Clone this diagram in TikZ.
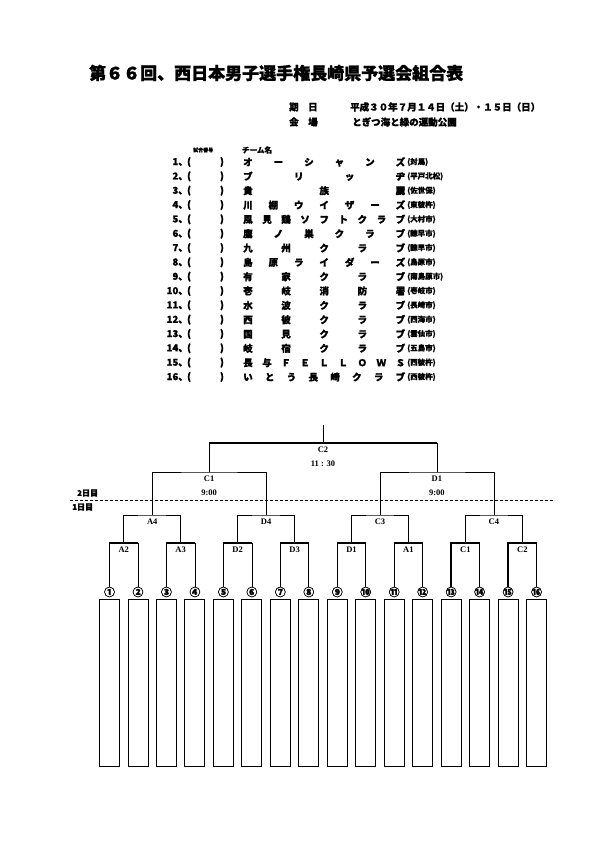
\documentclass[tikz,border=0pt]{standalone}
\usepackage{fontspec}
\setmainfont{Noto Sans CJK JP}[BoldFeatures={FakeBold=1.2}]
\newfontfamily\latin{Liberation Serif}
\usetikzlibrary{calc}

\tikzset{
  rowtxt/.style={inner sep=0pt, font=\fontsize{9.5}{10}\selectfont\bfseries},
  place/.style={inner sep=0pt, anchor=west, font=\fontsize{7.5}{8}\selectfont\bfseries},
  circ/.style={inner sep=0pt, font=\fontsize{11}{11}\selectfont\bfseries},
  slot/.style={draw, line width=0.9pt, minimum width=20pt, minimum height=167pt, anchor=north, inner sep=0pt},
  mlabel/.style={inner sep=0pt, font=\latin\fontsize{8.5}{9}\selectfont\bfseries},
  daytxt/.style={inner sep=0pt, anchor=west, font=\fontsize{8}{8}\selectfont\bfseries},
  win/.style={line width=1.4pt},
  lose/.style={line width=0.6pt},
  mid/.style={line width=1pt},
}

\begin{document}
\begin{tikzpicture}[x=1pt,y=-1pt]
\useasboundingbox (0,0) rectangle (595,842);

% heading
\node[anchor=west, inner sep=0pt, font=\fontsize{17}{17}\selectfont\bfseries] (title) at (89,73) {第６６回、西日本男子選手権長崎県予選会組合表};
\node[rowtxt, anchor=west] (datelab) at (289,107) {期　日};
\node[rowtxt, anchor=west] (date) at (350,107) {平成３０年７月１４日（土）・１５日（日）};
\node[rowtxt, anchor=west] (venuelab) at (289,122) {会　場};
\node[rowtxt, anchor=west] (venue) at (352,122) {とぎつ海と緑の運動公園};

% team list
\node[inner sep=0pt, anchor=west, font=\fontsize{5}{5}\selectfont\bfseries] (hdnum) at (193,150) {試合番号};
\node[inner sep=0pt, anchor=west, font=\fontsize{7.5}{8}\selectfont\bfseries] (hdname) at (242,150) {チーム名};
\foreach \tname/\tplace [count=\i] in {
    オ\hfill ー\hfill シ\hfill ャ\hfill ン\hfill ズ/対馬,
    ブ\hfill リ\hfill ッ\hfill ヂ/平戸北松,
    貴\hfill 族\hfill 麗/佐世保,
    川\hfill 棚\hfill ウ\hfill イ\hfill ザ\hfill ー\hfill ズ/東彼杵,
    風\hfill 見\hfill 鶏\hfill ソ\hfill フ\hfill ト\hfill ク\hfill ラ\hfill ブ/大村市,
    鷹\hfill ノ\hfill 巣\hfill ク\hfill ラ\hfill ブ/諫早市,
    九\hfill 州\hfill ク\hfill ラ\hfill ブ/諫早市,
    島\hfill 原\hfill ラ\hfill イ\hfill ダ\hfill ー\hfill ズ/島原市,
    有\hfill 家\hfill ク\hfill ラ\hfill ブ/南島原市,
    壱\hfill 岐\hfill 消\hfill 防\hfill 署/壱岐市,
    水\hfill 波\hfill ク\hfill ラ\hfill ブ/長崎市,
    西\hfill 彼\hfill ク\hfill ラ\hfill ブ/西海市,
    国\hfill 見\hfill ク\hfill ラ\hfill ブ/雲仙市,
    岐\hfill 宿\hfill ク\hfill ラ\hfill ブ/五島市,
    長\hfill 与\hfill Ｆ\hfill Ｅ\hfill Ｌ\hfill Ｌ\hfill Ｏ\hfill Ｗ\hfill Ｓ/西彼杵,
    い\hfill と\hfill う\hfill 長\hfill 崎\hfill ク\hfill ラ\hfill ブ/西彼杵} {
  \pgfmathsetmacro\ry{162+(\i-1)*14.33}
  \node[rowtxt, anchor=east] (n\i) at (188,\ry) {\i{}、};
  \node[rowtxt] (o\i) at (189,\ry) {(};
  \node[rowtxt] (c\i) at (222,\ry) {)};
  \node[rowtxt, anchor=west] (t\i) at (243,\ry) {\hbox to 162pt{\tname}};
  \node[place] (p\i) at (407,\ry) {(\tplace)};
}

% first round slots
\foreach \c [count=\i] in {①,②,③,④,⑤,⑥,⑦,⑧,⑨,⑩,⑪,⑫,⑬,⑭,⑮,⑯} {
  \node[circ] (l\i) at ({109.5+28.47*(\i-1)},592) {\c};
  \node[slot] (b\i) at ({109.5+28.47*(\i-1)},599) {};
}

% round 1
\foreach \lab/\a/\b [count=\k] in {A2/1/2,A3/3/4,D2/5/6,D3/7/8,D1/9/10,A1/11/12,C1/13/14,C2/15/16} {
  \coordinate (s\k) at ($(l\a)!0.5!(l\b)+(0,-49)$);
  \node[mlabel, anchor=north] (sl\k) at ($(s\k)+(0,3.5)$) {\lab};
  \draw[win] (l\a.north) |- (s\k -| l\b);
  \draw[lose] (s\k -| l\b) -- (l\b.north);
}
% round 2
\foreach \lab/\a/\b [count=\k] in {A4/1/2,D4/3/4,C3/5/6,C4/7/8} {
  \coordinate (r\k) at ($(s\a)!0.5!(s\b)+(0,-28)$);
  \node[mlabel, anchor=north] (rl\k) at ($(r\k)+(0,3.5)$) {\lab};
  \draw[mid] (s\a) |- (r\k) -| (s\b);
}
% round 3 (day 2)
\foreach \lab/\a/\b [count=\k] in {C1/1/2,D1/3/4} {
  \coordinate (q\k) at ($(r\a)!0.5!(r\b)+(0,-43)$);
  \node[mlabel, anchor=north] (ql\k) at ($(q\k)+(0,3.5)$) {\lab};
  \node[mlabel] (qt\k) at ($(q\k)+(0,21)$) {9:00};
  \draw[lose] (r\a) |- (q\k) -| (r\b);
}
% final
\coordinate (final) at ($(q1)!0.5!(q2)+(0,-29)$);
\node[mlabel, anchor=north] (finl) at ($(final)+(0,4)$) {C2};
\node[mlabel] (fint) at ($(final)+(0,21)$) {11 : 30};
\draw[lose] (q1) -- (q1 |- final);
\draw[win] (q1 |- final) -- (q2 |- final);
\draw[lose] (q2 |- final) -- (q2);
\coordinate (stem) at ($(final)+(0,-18)$);
\draw[mid] (final) -- (stem);

% day split
\node[daytxt] (day2) at (77,493) {2日目};
\node[daytxt] (day1) at (72,507) {1日目};
\draw[line width=1pt, dash pattern=on 3pt off 2pt] (70,500) -- (553,500);
\end{tikzpicture}
\end{document}
